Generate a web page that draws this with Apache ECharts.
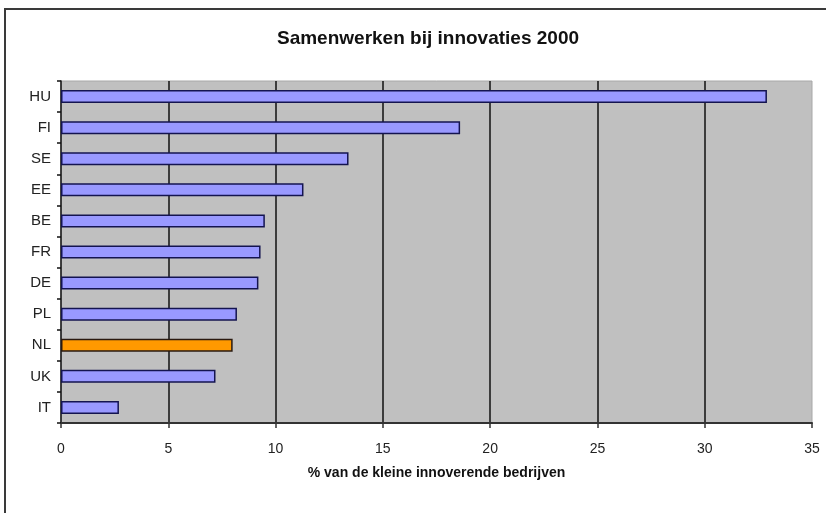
<!DOCTYPE html>
<html>
<head>
<meta charset="utf-8">
<script src="https://cdn.jsdelivr.net/npm/echarts@6/dist/echarts.min.js"></script>
<style>
  html, body { margin: 0; padding: 0; background: #ffffff; }
  #chart { width: 826px; height: 513px; }
</style>
</head>
<body>
<div id="chart"></div>
<script>
// Countries, listed top to bottom
const countries = ['HU', 'FI', 'SE', 'EE', 'BE', 'FR', 'DE', 'PL', 'NL', 'UK', 'IT'];
// Share of small innovating firms that cooperate on innovation (%)
const shares = [32.9, 18.6, 13.4, 11.3, 9.5, 9.3, 9.2, 8.2, 8.0, 7.2, 2.7];
// Country drawn in the highlight colour
const highlighted = 'NL';
const xTicks = { min: 0, max: 35, interval: 5 };

const chart = echarts.init(document.getElementById('chart'), null, { renderer: 'canvas' });

const barData = countries.map((c, i) => ({
  value: shares[i],
  itemStyle: c === highlighted
    ? { color: '#ff9900', borderColor: '#2a1a10' }
    : { color: '#9999ff', borderColor: '#141450' }
}));

chart.setOption({
  backgroundColor: '#ffffff',
  animation: false,
  graphic: [{
    type: 'rect',
    shape: { x: 5, y: 9, width: 840, height: 540 },
    style: { fill: 'none', stroke: '#3a3a3a', lineWidth: 2 },
    silent: true,
    z: 100
  }],
  title: {
    text: 'Samenwerken bij innovaties 2000',
    left: 423,
    textAlign: 'center',
    top: 24,
    textStyle: { fontFamily: 'Liberation Sans, Arial, sans-serif', fontSize: 19, fontWeight: 'bold', color: '#111' }
  },
  grid: {
    left: 61, right: 14, top: 81, bottom: 90,
    show: true,
    backgroundColor: '#c0c0c0',
    borderColor: '#a8a8a8',
    borderWidth: 1
  },
  xAxis: {
    type: 'value',
    min: xTicks.min, max: xTicks.max, interval: xTicks.interval,
    name: '% van de kleine innoverende bedrijven',
    nameLocation: 'middle',
    nameGap: 43,
    nameTextStyle: { fontFamily: 'Liberation Sans, Arial, sans-serif', fontSize: 14, fontWeight: 'bold', color: '#111' },
    axisLine: { show: true, lineStyle: { color: '#333', width: 2 } },
    axisTick: { show: true, length: 5, lineStyle: { color: '#333', width: 1.5 } },
    axisLabel: { margin: 19, fontFamily: 'Liberation Sans, Arial, sans-serif', fontSize: 14, color: '#222' },
    splitLine: { show: true, showMinLine: false, showMaxLine: false, lineStyle: { color: '#111', width: 1.5 } }
  },
  yAxis: {
    type: 'category',
    data: countries,
    inverse: true,
    axisLine: { show: true, lineStyle: { color: '#111', width: 1.5 } },
    axisTick: { show: true, length: 4, lineStyle: { color: '#111', width: 1.5 } },
    axisLabel: { margin: 10, fontFamily: 'Liberation Sans, Arial, sans-serif', fontSize: 15, color: '#222' },
    splitLine: { show: false }
  },
  series: [{
    type: 'bar',
    data: barData,
    barWidth: 13,
    itemStyle: { borderWidth: 1.5 },
    z: 3
  }]
});
</script>
</body>
</html>
